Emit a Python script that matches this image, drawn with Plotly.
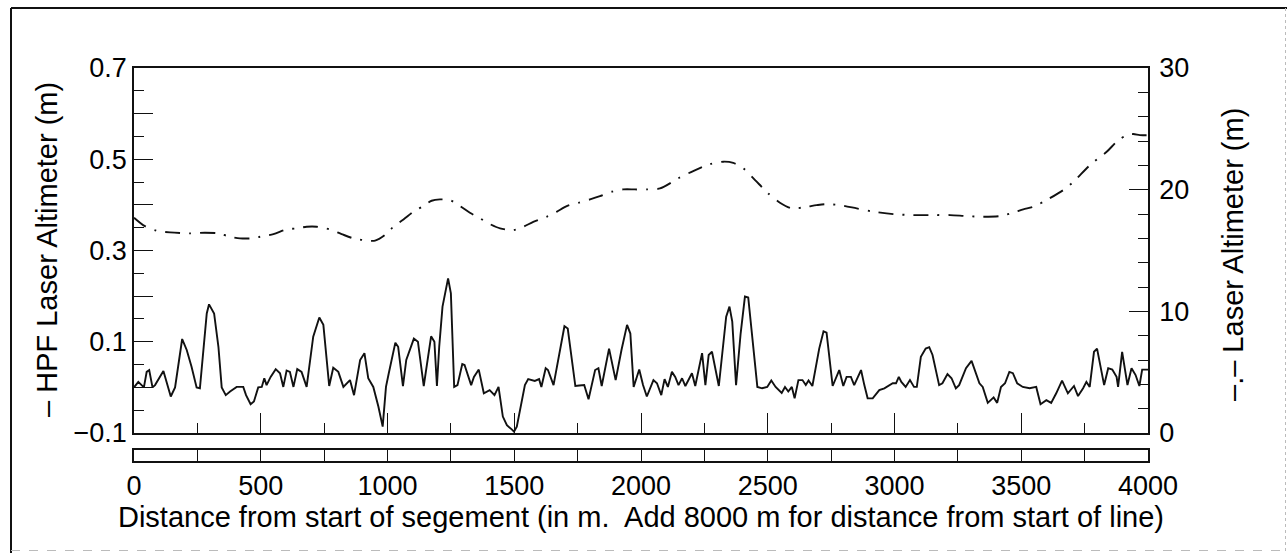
import plotly.graph_objects as go

# High-pass filtered laser altimeter (left axis, m)
hpf_dist = [0, 17, 30, 39, 50, 60, 73, 83, 116, 145, 162, 190, 208, 227, 247, 260, 287, 296, 316, 333,
            346, 362, 379, 405, 431, 442, 460, 473, 490, 504, 514, 523, 539, 559, 576, 589, 602, 615, 629, 644,
            661, 681, 707, 731, 747, 760, 770, 786, 806, 826, 852, 868, 892, 909, 924, 944, 964, 981, 994, 1005,
            1031, 1042, 1061, 1074, 1104, 1120, 1143, 1172, 1185, 1195, 1204, 1217, 1239, 1250, 1263, 1276, 1295, 1304, 1330, 1341,
            1360, 1380, 1403, 1422, 1438, 1455, 1471, 1490, 1499, 1510, 1542, 1555, 1581, 1598, 1607, 1624, 1633, 1655, 1679, 1698,
            1711, 1741, 1757, 1776, 1793, 1819, 1832, 1845, 1874, 1900, 1923, 1945, 1958, 1971, 1993, 2008, 2023, 2049, 2063, 2080,
            2093, 2106, 2122, 2135, 2148, 2162, 2175, 2201, 2214, 2241, 2254, 2267, 2280, 2307, 2336, 2349, 2360, 2375, 2393, 2410,
            2423, 2439, 2459, 2478, 2498, 2514, 2531, 2555, 2568, 2581, 2595, 2606, 2621, 2637, 2650, 2661, 2676, 2703, 2720, 2732,
            2745, 2756, 2782, 2798, 2811, 2828, 2841, 2868, 2881, 2894, 2914, 2940, 2960, 2973, 2993, 3006, 3017, 3027, 3044, 3061,
            3077, 3088, 3104, 3123, 3137, 3150, 3176, 3189, 3209, 3225, 3242, 3255, 3282, 3304, 3321, 3335, 3348, 3368, 3391, 3405,
            3420, 3436, 3453, 3467, 3484, 3506, 3533, 3559, 3576, 3599, 3618, 3638, 3661, 3684, 3708, 3724, 3744, 3757, 3770, 3787,
            3799, 3827, 3843, 3859, 3876, 3882, 3898, 3919, 3935, 3951, 3966, 3977, 4000]
hpf_value = [0.0, 0.012, 0.005, 0.0, 0.034, 0.038, 0.0, 0.005, 0.036, -0.02, 0.0, 0.106, 0.082, 0.045, 0.0, -0.002, 0.162, 0.182, 0.162, 0.089,
             0.0, -0.017, -0.009, 0.001, 0.001, -0.017, -0.037, -0.031, 0.0, 0.001, 0.02, 0.005, 0.023, 0.04, 0.031, 0.001, 0.037, 0.034, 0.001, 0.04,
             0.034, 0.001, 0.111, 0.153, 0.137, 0.067, 0.003, 0.043, 0.034, 0.001, 0.016, -0.017, 0.06, 0.075, 0.02, 0.001, -0.042, -0.086, 0.001, 0.031,
             0.098, 0.089, 0.003, 0.06, 0.107, 0.1, 0.003, 0.112, 0.1, 0.003, 0.089, 0.177, 0.239, 0.206, 0.001, 0.005, 0.051, 0.049, 0.005, 0.023,
             0.039, -0.013, -0.006, -0.017, 0.001, -0.064, -0.083, -0.092, -0.097, -0.086, 0.005, 0.018, 0.014, 0.018, 0.001, 0.042, 0.038, 0.005, 0.075, 0.134,
             0.129, 0.003, 0.004, 0.005, -0.026, 0.038, 0.042, 0.003, 0.085, 0.016, 0.082, 0.137, 0.118, 0.001, 0.039, 0.005, -0.02, 0.016, 0.009, -0.017,
             0.018, 0.001, 0.034, 0.023, 0.005, 0.02, 0.003, 0.031, 0.003, 0.075, 0.005, 0.071, 0.078, 0.003, 0.155, 0.177, 0.144, 0.005, 0.118, 0.199,
             0.197, 0.111, 0.001, -0.002, 0.001, 0.015, 0.001, -0.012, 0.001, -0.009, 0.001, -0.024, 0.016, 0.016, 0.005, 0.015, 0.003, 0.085, 0.123, 0.12,
             0.06, 0.003, 0.038, 0.003, 0.023, 0.023, 0.005, 0.038, 0.005, -0.024, -0.024, -0.006, -0.002, 0.003, 0.009, 0.009, 0.023, 0.012, 0.001, 0.016,
             0.001, 0.001, 0.067, 0.085, 0.088, 0.071, 0.005, 0.009, 0.029, 0.02, -0.002, 0.005, 0.042, 0.058, 0.031, 0.009, 0.001, -0.034, -0.022, -0.034,
             0.001, 0.009, 0.034, 0.031, 0.009, 0.001, -0.002, 0.001, -0.037, -0.028, -0.034, -0.013, 0.015, -0.013, 0.003, -0.019, -0.002, 0.012, 0.001, 0.078,
             0.085, 0.005, 0.042, 0.039, 0.023, 0.001, 0.078, 0.005, 0.042, 0.027, 0.003, 0.039, 0.039]

# Laser altimeter height (right axis, m)
alt_dist = [0, 43, 89, 142, 221, 280, 333, 379, 418, 464, 497, 550, 602, 642, 681, 721, 773, 819, 865, 905,
            951, 990, 1023, 1063, 1102, 1141, 1174, 1207, 1247, 1286, 1325, 1365, 1404, 1444, 1496, 1536, 1575, 1628, 1667, 1707,
            1753, 1799, 1838, 1884, 1930, 1976, 2022, 2075, 2147, 2206, 2272, 2325, 2364, 2404, 2450, 2502, 2548, 2594, 2640, 2693,
            2726, 2785, 2851, 2917, 2995, 3074, 3153, 3219, 3285, 3350, 3416, 3469, 3508, 3548, 3600, 3666, 3706, 3771, 3837, 3876,
            3916, 3942, 3968, 4000]
alt_value = [17.7, 17.0, 16.62, 16.49, 16.41, 16.46, 16.41, 16.13, 16.0, 16.0, 16.13, 16.35, 16.73, 16.82, 16.95, 16.95, 16.73, 16.35, 16.0, 15.86,
             15.81, 16.27, 16.95, 17.55, 18.18, 18.65, 19.09, 19.2, 19.14, 18.65, 18.1, 17.64, 17.17, 16.82, 16.68, 16.95, 17.36, 17.77, 18.18, 18.65,
             18.92, 19.2, 19.47, 19.83, 20.02, 20.02, 20.02, 20.1, 20.93, 21.53, 22.1, 22.3, 22.2, 21.75, 20.79, 19.69, 18.93, 18.46, 18.54, 18.73,
             18.81, 18.73, 18.46, 18.19, 17.99, 17.91, 17.91, 17.91, 17.83, 17.78, 17.83, 18.11, 18.38, 18.6, 19.15, 19.97, 20.65, 22.02, 23.11, 23.93,
             24.48, 24.57, 24.48, 24.48]

# Axis ticks
left_tickvals = [-0.1, 0.0, 0.1, 0.2, 0.3, 0.4, 0.5, 0.6, 0.7]
left_ticktext = ["\u22120.1", "", "0.1", "", "0.3", "", "0.5", "", "0.7"]
right_tickvals = [0, 10, 20, 30]
right_ticktext = ["0", "10", "20", "30"]
x_tickvals = [0, 500, 1000, 1500, 2000, 2500, 3000, 3500, 4000]
x_ticktext = ["0", "500", "1000", "1500", "2000", "2500", "3000", "3500", "4000"]

FONT = "Liberation Sans, Arial, Helvetica, sans-serif"
INK = "#111111"
TICK_SIZE = 27
TITLE_SIZE = 29
W, H = 1287, 553
ML, MR, MT, MB = 134, 139, 68, 92
PW, PH = W - ML - MR, H - MT - MB
STRIP = 11 / PH
MAIN0 = 28 / PH

fig = go.Figure()
fig.add_trace(go.Scatter(x=hpf_dist, y=hpf_value, mode="lines", xaxis="x", yaxis="y",
                         line=dict(color=INK, width=1.9), showlegend=False, hoverinfo="skip"))
fig.add_trace(go.Scatter(x=alt_dist, y=alt_value, mode="lines", xaxis="x", yaxis="y2",
                         line=dict(color=INK, width=1.9, dash="15px,9px,2px,9px", shape="spline", smoothing=0.8),
                         showlegend=False, hoverinfo="skip"))
# empty trace that carries the distance strip below the plot
fig.add_trace(go.Scatter(x=[], y=[], xaxis="x2", yaxis="y3", showlegend=False, hoverinfo="skip"))

axis_common = dict(showgrid=False, zeroline=False, showline=True, linecolor=INK, linewidth=1.5,
                   tickcolor=INK, tickwidth=1.3, ticks="inside", tickfont=dict(size=TICK_SIZE))

fig.update_layout(
    width=W, height=H,
    margin=dict(l=ML, r=MR, t=MT, b=MB, pad=0),
    paper_bgcolor="white", plot_bgcolor="white",
    font=dict(family=FONT, size=TICK_SIZE, color="#000000"),
    xaxis=dict(domain=[0, 1], anchor="y", range=[0, 4000], mirror=True, showticklabels=False,
               tickmode="array", tickvals=x_tickvals, ticklen=20,
               minor=dict(dtick=250, tick0=0, ticklen=10, ticks="inside", tickcolor=INK, tickwidth=1.3),
               **axis_common),
    yaxis=dict(domain=[MAIN0, 1], anchor="x", range=[-0.1, 0.7],
               tickmode="array", tickvals=left_tickvals, ticktext=left_ticktext, ticklen=19,
               ticklabelstandoff=0,
               minor=dict(dtick=0.05, tick0=-0.1, ticklen=10, ticks="inside", tickcolor=INK, tickwidth=1.3),
               **axis_common),
    yaxis2=dict(domain=[MAIN0, 1], anchor="x", overlaying="y", side="right", range=[0, 30],
                tickmode="array", tickvals=right_tickvals, ticktext=right_ticktext, ticklen=19,
                ticklabelstandoff=4,
                minor=dict(dtick=2, tick0=0, ticklen=10, ticks="inside", tickcolor=INK, tickwidth=1.3),
                **axis_common),
    xaxis2=dict(domain=[0, 1], anchor="y3", range=[0, 4000], mirror=True,
                tickmode="array", tickvals=x_tickvals, ticktext=x_ticktext, ticklen=11,
                ticklabelstandoff=0,
                minor=dict(dtick=250, tick0=0, ticklen=11, ticks="inside", tickcolor=INK, tickwidth=1.3),
                title=dict(text="Distance from start of segement (in m.\u00a0 Add 8000 m for distance from start of line)",
                           standoff=2, font=dict(size=TITLE_SIZE)),
                **axis_common),
    yaxis3=dict(domain=[0, STRIP], anchor="x2", range=[0, 1], showgrid=False, zeroline=False,
                showline=True, mirror=True, linecolor=INK, linewidth=1.5, ticks="", showticklabels=False),
    annotations=[
        dict(text="\u2013 HPF Laser Altimeter (m)", textangle=-90, xref="paper", yref="paper",
             x=0, y=(H - MB - 250) / PH, xshift=-87, xanchor="center", yanchor="middle",
             showarrow=False, font=dict(size=TITLE_SIZE)),
        dict(text="\u2013.\u2013 Laser Altimeter (m)", textangle=-90, xref="paper", yref="paper",
             x=1, y=(H - MB - 255) / PH, xshift=85, xanchor="center", yanchor="middle",
             showarrow=False, font=dict(size=TITLE_SIZE)),
    ],
)

# outer frame of the figure
def px_x(px):
    return (px - ML) / PW

def px_y(py):
    return (H - MB - py) / PH

frame = [
    dict(x0=px_x(11), x1=px_x(11), y0=px_y(8), y1=px_y(553), line=dict(color="#111111", width=2)),
    dict(x0=px_x(11), x1=px_x(1287), y0=px_y(8), y1=px_y(8), line=dict(color="#111111", width=2)),
    dict(x0=px_x(1285.5), x1=px_x(1285.5), y0=px_y(8), y1=px_y(552), line=dict(color="#bbbbbb", width=1, dash="dot")),
    dict(x0=px_x(11), x1=px_x(1287), y0=px_y(550.5), y1=px_y(550.5), line=dict(color="#bbbbbb", width=1, dash="dash")),
]
for f in frame:
    fig.add_shape(type="line", xref="paper", yref="paper", layer="above", **f)

fig.write_html("out.html")
